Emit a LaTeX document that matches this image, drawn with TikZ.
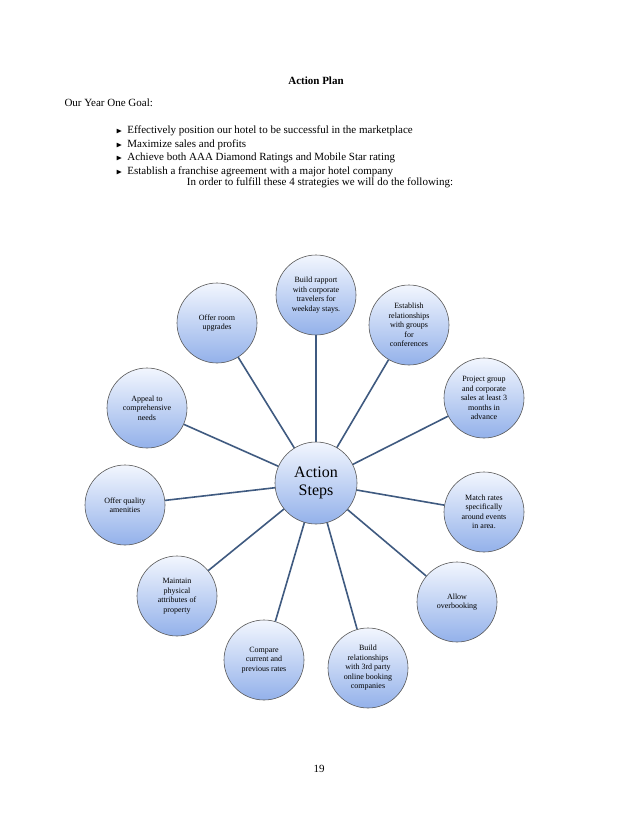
\documentclass[tikz,border=0pt]{standalone}
\usepackage{fontspec}
\setmainfont{Liberation Serif}
\usepackage{amssymb}
\definecolor{spk}{HTML}{3F5A80}
\definecolor{cbot}{HTML}{93B1EA}
\definecolor{ctop}{HTML}{F2F6FE}
\begin{document}
\begin{tikzpicture}[x=1pt,y=-1pt,
  circ/.style={circle,minimum size=80pt,inner sep=0pt,draw=black!65,line width=0.6pt,
    top color=ctop,bottom color=cbot,align=center,
    font=\fontsize{8}{9.5}\selectfont},
  spoke/.style={draw=spk,line width=1.6pt},
  txt/.style={font=\fontsize{11}{13}\selectfont}]
\useasboundingbox (0,0) rectangle (638,826);
\fill[white] (0,0) rectangle (638,826);
\node[txt] at (316,81) {\bfseries Action Plan};
\node[txt,anchor=west] at (61,103) {Our Year One Goal:};
\foreach \t/\y in {Effectively position our hotel to be successful in the marketplace/131,
  Maximize sales and profits/145,Achieve both AAA Diamond Ratings and Mobile Star rating/158,
  Establish a franchise agreement with a major hotel company/172}
  \node[txt,anchor=west,inner sep=0pt] at (116,\y) {\fontsize{8}{9}\selectfont$\blacktriangleright$\hspace{5pt}\fontsize{11}{13}\selectfont\t};
\node[txt] at (320,183) {In order to fulfill these 4 strategies we will do the following:};
\node[circ] (c1) at (316,295) {Build rapport\\with corporate\\travelers for\\weekday stays.};
\node[circ] (c2) at (409,325) {Establish\\relationships\\with groups\\for\\conferences};
\node[circ] (c3) at (484,398) {Project group\\and corporate\\sales at least 3\\months in\\advance};
\node[circ] (c4) at (484,512) {Match rates\\specifically\\around events\\in area.};
\node[circ] (c5) at (457,602) {Allow\\overbooking};
\node[circ] (c6) at (368,668) {Build\\relationships\\with 3rd party\\online booking\\companies};
\node[circ] (c7) at (264,660) {Compare\\current and\\previous rates};
\node[circ] (c8) at (177,596) {Maintain\\physical\\attributes of\\property};
\node[circ] (c9) at (125,505) {Offer quality\\amenities};
\node[circ] (c10) at (147,408) {Appeal to\\comprehensive\\needs};
\node[circ] (c11) at (217,323) {Offer room\\upgrades};
\foreach \i in {1,...,11} \draw[spoke] (316,483) -- (c\i);
\node[circ,minimum size=82pt,font=\fontsize{16}{18}\selectfont] (c0) at (316,483) {Action\\Steps};
\node[txt] at (319,769) {19};
\end{tikzpicture}
\end{document}
